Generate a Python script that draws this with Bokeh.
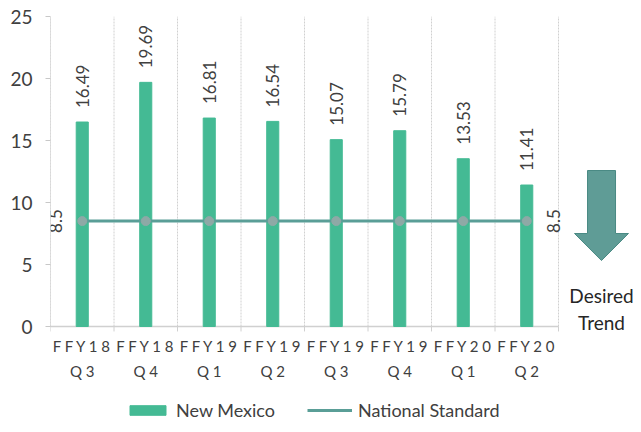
import numpy as np
from bokeh.plotting import figure
from bokeh.models import (ColumnDataSource, Range1d, FixedTicker, Legend, LegendItem)
from bokeh.core.properties import value
from bokeh.embed import file_html
from bokeh.resources import INLINE

categories = ["FFY18 Q3", "FFY18 Q4", "FFY19 Q1", "FFY19 Q2",
              "FFY19 Q3", "FFY19 Q4", "FFY20 Q1", "FFY20 Q2"]
new_mexico = [16.49, 19.69, 16.81, 16.54, 15.07, 15.79, 13.53, 11.41]
national_standard = [8.5] * 8
y_ticks = [0, 5, 10, 15, 20, 25]

FONT = "Lato"
BAR = "#44BA94"
LINE = "#5A9E97"
TXT = "#404040"
GRID = "#d0d0d0"

n = len(categories)
xc = np.arange(n) + 0.5
bounds = np.arange(n + 1)

# geometry (pixels)
W, H = 641, 432
LEFT, TOP = 50, 16
PX_CAT = 63.5          # pixels per category
PX_UNIT = 12.4         # pixels per y unit
x_end = (W - LEFT) / PX_CAT
y_start = 25 - (H - TOP) / PX_UNIT

src = ColumnDataSource(dict(x=xc, nm=new_mexico, ns=national_standard,
                            nm_lbl=[f"{v:.2f}" for v in new_mexico],
                            l1=[" ".join(c.split(" ")[0]) for c in categories],
                            l2=[" ".join(c.split(" ")[1]) for c in categories],
                            zero=[0] * n))

p = figure(width=W, height=H, output_backend="svg", toolbar_location=None,
           x_range=Range1d(0, x_end), y_range=Range1d(y_start, 25),
           x_axis_location=None, min_border_left=LEFT, min_border_right=0,
           min_border_top=TOP, min_border_bottom=0)
p.outline_line_color = None
p.grid.visible = False

# vertical category separators (dashed)
p.segment(x0=bounds, y0=[0] * (n + 1), x1=bounds, y1=[25] * (n + 1),
          line_color=GRID, line_dash="2 1", line_width=1)
# small tick marks below the axis at category boundaries
p.segment(x0=bounds, y0=[0] * (n + 1), x1=bounds, y1=[-0.4] * (n + 1),
          line_color=GRID, line_width=1)
# bottom axis line
p.segment(x0=[-0.1], y0=[0], x1=[n], y1=[0], line_color=GRID, line_width=1.5)

bars = p.vbar(x="x", top="nm", width=0.19, source=src, color=BAR)
ln = p.line(x="x", y="ns", source=src, line_color=LINE, line_width=3)
p.scatter(x="x", y="ns", source=src, size=9, fill_color="#8EA9A6",
          line_color="#8EA9A6")

# bar value labels
p.text(x="x", y="nm", text="nm_lbl", source=src, angle=np.pi / 2,
       text_align="left", text_baseline="middle", y_offset=-14,
       text_font=value(FONT), text_font_size="17px", text_color=TXT)

# national standard labels at first and last points
p.text(x=[xc[0]], y=[national_standard[0]], text=[f"{national_standard[0]}"],
       angle=np.pi / 2, text_align="center", text_baseline="middle",
       x_offset=-27, text_font=value(FONT), text_font_size="17px", text_color=TXT)
p.text(x=[xc[-1]], y=[national_standard[-1]], text=[f"{national_standard[-1]}"],
       angle=np.pi / 2, text_align="center", text_baseline="middle",
       x_offset=27, text_font=value(FONT), text_font_size="17px", text_color=TXT)

# category labels (two lines, letter spaced)
p.text(x="x", y="zero", text="l1", source=src, y_offset=19,
       text_align="center", text_baseline="middle", text_font=value(FONT),
       text_font_size="15px", text_color=TXT)
p.text(x="x", y="zero", text="l2", source=src, y_offset=44,
       text_align="center", text_baseline="middle", text_font=value(FONT),
       text_font_size="15px", text_color=TXT)

# y axis
p.yaxis.ticker = FixedTicker(ticks=y_ticks)
p.yaxis.bounds = (0, 25)
p.yaxis.minor_tick_line_color = None
p.yaxis.major_tick_out = 5
p.yaxis.major_tick_in = 0
p.yaxis.major_tick_line_color = "#c8c8c8"
p.yaxis.axis_line_color = "#c8c8c8"
p.yaxis.axis_line_dash = "1 1"
p.yaxis.major_label_text_font = FONT
p.yaxis.major_label_text_font_size = "19px"
p.yaxis.major_label_text_color = TXT
p.yaxis.major_label_standoff = 13

# legend inside the canvas, below the category labels
legend = Legend(items=[LegendItem(label="New Mexico", renderers=[bars]),
                       LegendItem(label="National Standard", renderers=[ln])],
                orientation="horizontal", location=(75, 11),
                label_text_font=FONT, label_text_font_size="18px",
                label_text_color=TXT, glyph_width=45, glyph_height=12,
                spacing=32, border_line_color=None, background_fill_alpha=0,
                margin=0, padding=0, label_standoff=6)
p.add_layout(legend, "center")

# desired trend arrow and caption (decoration in data units)
ax = [8.457, 8.898, 8.898, 9.102, 8.677, 8.252, 8.457]
ay = [12.58, 12.58, 7.5, 7.5, 5.32, 7.5, 7.5]
p.patch(ax, ay, fill_color="#5F9C96", line_color="#4A8A84", line_width=1)
p.text(x=[8.677, 8.677], y=[2.5, 0.32], text=["Desired", "Trend"],
       text_align="center", text_baseline="middle", text_font=value(FONT),
       text_font_size="19px", text_color="#262626")

open("out.html", "w").write(file_html(p, INLINE))
